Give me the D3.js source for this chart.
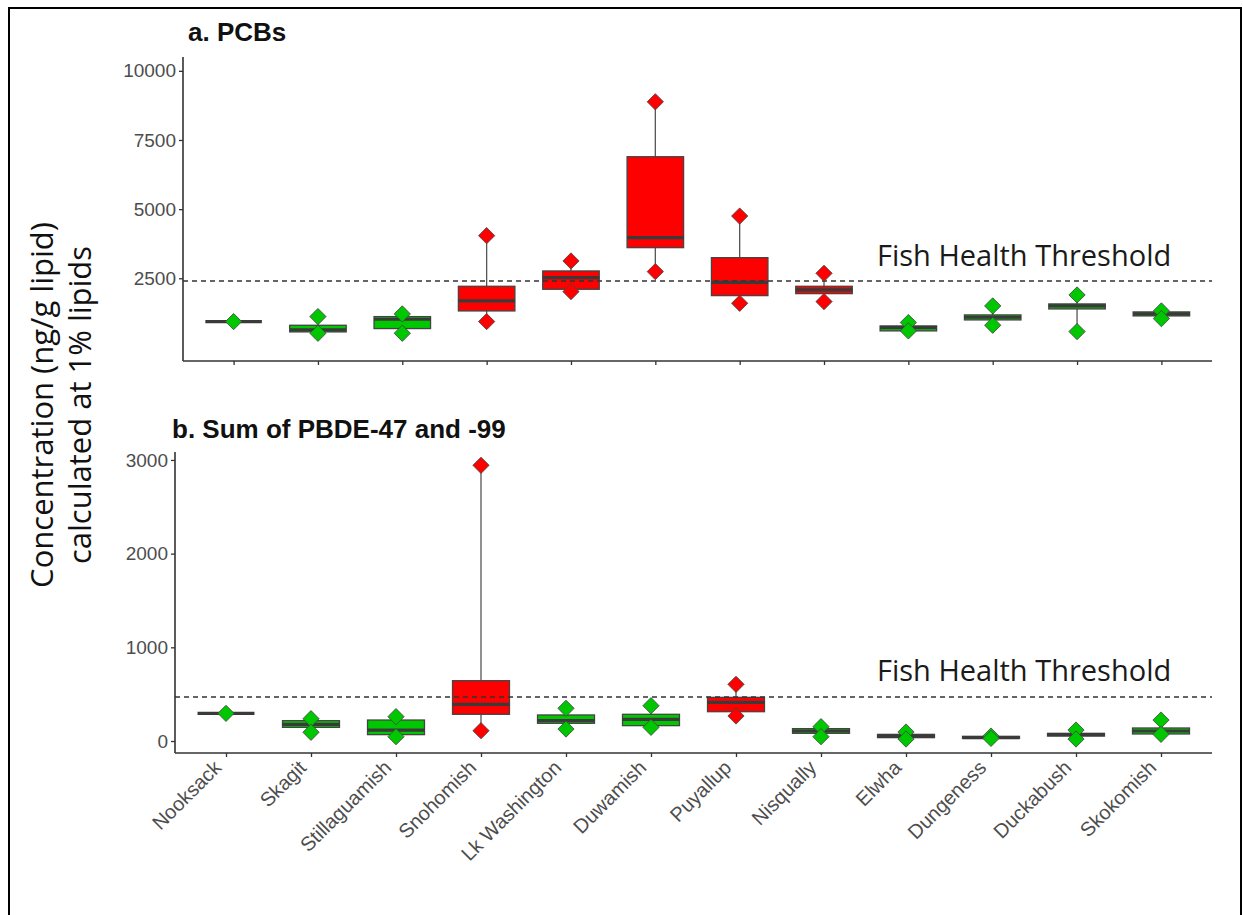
<!DOCTYPE html>
<html>
<head>
<meta charset="utf-8">
<script src="https://cdn.jsdelivr.net/npm/d3@7"></script>
<style>
  html, body { margin: 0; padding: 0; background: #fff; }
  svg { display: block; }
</style>
</head>
<body>
<script>
// ---------- data ----------
const sites = ["Nooksack", "Skagit", "Stillaguamish", "Snohomish", "Lk Washington", "Duwamish",
               "Puyallup", "Nisqually", "Elwha", "Dungeness", "Duckabush", "Skokomish"];

// a. PCBs (ng/g lipid)
const pcbMin = [935, 513, 513, 935, 2018, 2741, 1597, 1657, 598, 802, 574, 1043];
const pcbQ1  = [935, 562, 682, 1320, 2103, 3608, 1874, 1946, 598, 995, 1392, 1140];
const pcbMed = [935, 634, 1019, 1681, 2524, 3969, 2355, 2079, 718, 1091, 1501, 1212];
const pcbQ3  = [935, 802, 1115, 2211, 2765, 6895, 3246, 2211, 778, 1176, 1573, 1284];
const pcbMax = [935, 1115, 1212, 4041, 3126, 8881, 4751, 2681, 899, 1501, 1898, 1320];
const pcbThreshold = 2400;
const pcbTicks = [2500, 5000, 7500, 10000];

// b. Sum of PBDE-47 and -99 (ng/g lipid)
const pbdeMin = [295, 93, 46, 110, 128, 146, 267, 46, 21, 28, 21, 71];
const pbdeQ1  = [295, 146, 68, 285, 189, 164, 313, 82, 36, 28, 53, 75];
const pbdeMed = [295, 178, 117, 391, 217, 231, 413, 107, 53, 36, 68, 107];
const pbdeQ3  = [295, 217, 224, 644, 278, 285, 466, 132, 71, 50, 82, 139];
const pbdeMax = [295, 238, 260, 2943, 349, 377, 605, 153, 96, 53, 117, 224];
const pbdeThreshold = 470;
const pbdeTicks = [0, 1000, 2000, 3000];

const thresholdLabel = "Fish Health Threshold";
const yTitle = ["Concentration (ng/g lipid)", "calculated at 1% lipids"];

// ---------- drawing ----------
const W = 1243, H = 915;
const svg = d3.select("body").append("svg").attr("width", W).attr("height", H);

svg.append("rect").attr("x", 9).attr("y", 8).attr("width", 1232).attr("height", 930)
  .attr("fill", "none").attr("stroke", "#000").attr("stroke-width", 2);

const RED = "#FF0000", GREEN = "#00C800";
const AXIS = "#333333", TICKTXT = "#4D4D4D";

function panel(cfg) {
  const { left, right, top, bottom, domain, ticks, min, q1, med, q3, max, threshold,
          title, titleX, titleY, labelY, showX } = cfg;
  const x = d3.scalePoint().domain(sites).range([left, right]).padding(0.6);
  const y = d3.scaleLinear().domain(domain).range([bottom, top]);
  const bw = x.step() * 0.67;
  const g = svg.append("g");

  const rows = sites.map((s, i) => ({ s, min: min[i], q1: q1[i], med: med[i], q3: q3[i], max: max[i] }));

  // whiskers
  g.selectAll("line.wh").data(rows).join("line")
    .attr("x1", d => x(d.s)).attr("x2", d => x(d.s))
    .attr("y1", d => y(d.max)).attr("y2", d => y(d.min))
    .attr("stroke", "#555").attr("stroke-width", 1.3);

  // boxes
  g.selectAll("rect.box").data(rows).join("rect")
    .attr("x", d => x(d.s) - bw / 2).attr("width", bw)
    .attr("y", d => y(d.q3)).attr("height", d => Math.max(0, y(d.q1) - y(d.q3)))
    .attr("fill", d => d.max > threshold ? RED : GREEN)
    .attr("stroke", "#444").attr("stroke-width", 1.3);

  // medians
  g.selectAll("line.med").data(rows).join("line")
    .attr("x1", d => x(d.s) - bw / 2).attr("x2", d => x(d.s) + bw / 2)
    .attr("y1", d => y(d.med)).attr("y2", d => y(d.med))
    .attr("stroke", "#3a3a3a").attr("stroke-width", 3.2);

  // threshold line
  g.append("line").attr("x1", left).attr("x2", right)
    .attr("y1", y(threshold)).attr("y2", y(threshold))
    .attr("stroke", "#333").attr("stroke-width", 1.4).attr("stroke-dasharray", "5,4");

  // diamonds at min & max
  const pts = [];
  rows.forEach(d => { pts.push({ s: d.s, v: d.max, c: d.max > threshold }); if (d.min !== d.max) pts.push({ s: d.s, v: d.min, c: d.max > threshold }); });
  const sym = d3.symbol().type(d3.symbolSquare).size(132);
  g.selectAll("path.pt").data(pts).join("path")
    .attr("d", sym)
    .attr("transform", d => `translate(${x(d.s)},${y(d.v)}) rotate(45)`)
    .attr("fill", d => d.c ? RED : GREEN)
    .attr("stroke", "#444").attr("stroke-width", 0.8);

  // axes
  const ya = g.append("g").attr("transform", `translate(${left},0)`)
    .call(d3.axisLeft(y).tickValues(ticks).tickSize(4).tickPadding(3).tickFormat(d3.format("d")));
  ya.select(".domain").attr("stroke", AXIS).attr("stroke-width", 1.6).attr("d", `M0,${bottom}V${top}`);
  ya.selectAll(".tick line").attr("stroke", AXIS).attr("stroke-width", 1.3);
  ya.selectAll(".tick text").attr("fill", TICKTXT).style("font-family", "Liberation Sans, Arial, sans-serif").style("font-size", "19px");

  const xa = g.append("g").attr("transform", `translate(0,${bottom})`)
    .call(d3.axisBottom(x).tickSize(4).tickPadding(4));
  xa.select(".domain").attr("stroke", AXIS).attr("stroke-width", 1.6).attr("d", `M${left},0H${right}`);
  xa.selectAll(".tick line").attr("stroke", AXIS).attr("stroke-width", 1.3);
  if (showX) {
    xa.selectAll(".tick text")
      .attr("fill", TICKTXT).style("font-family", "Liberation Sans, Arial, sans-serif").style("font-size", "20px")
      .attr("text-anchor", "end").attr("dy", null).attr("y", 0)
      .attr("transform", "translate(-4,16) rotate(-45)");
  } else {
    xa.selectAll(".tick text").remove();
  }

  // title
  svg.append("text").attr("x", titleX).attr("y", titleY).text(title)
    .style("font-family", "Liberation Sans, Arial, sans-serif").style("font-weight", "bold")
    .style("font-size", "26px").attr("fill", "#111");

  // threshold label
  svg.append("text").attr("x", 877).attr("y", labelY).text(thresholdLabel)
    .style("font-family", "Open Sans, Noto Sans, sans-serif").style("font-size", "29px").attr("fill", "#1a1a1a");
}

panel({ left: 183, right: 1212, top: 57, bottom: 361, domain: [-490, 10500], ticks: pcbTicks,
        min: pcbMin, q1: pcbQ1, med: pcbMed, q3: pcbQ3, max: pcbMax, threshold: pcbThreshold,
        title: "a. PCBs", titleX: 188, titleY: 41, labelY: 266, showX: false });

panel({ left: 175, right: 1212, top: 452, bottom: 753, domain: [-128, 3085], ticks: pbdeTicks,
        min: pbdeMin, q1: pbdeQ1, med: pbdeMed, q3: pbdeQ3, max: pbdeMax, threshold: pbdeThreshold,
        title: "b. Sum of PBDE-47 and -99", titleX: 172, titleY: 438, labelY: 681, showX: true });

// y-axis title
const yt = svg.append("text").attr("transform", "translate(0,405) rotate(-90)")
  .attr("text-anchor", "middle")
  .style("font-family", "Open Sans, Noto Sans, sans-serif").style("font-size", "31px").attr("fill", "#111");
yt.append("tspan").attr("x", 0).attr("y", 53).text(yTitle[0]);
yt.append("tspan").attr("x", 0).attr("y", 91).text(yTitle[1]);
</script>
</body>
</html>
